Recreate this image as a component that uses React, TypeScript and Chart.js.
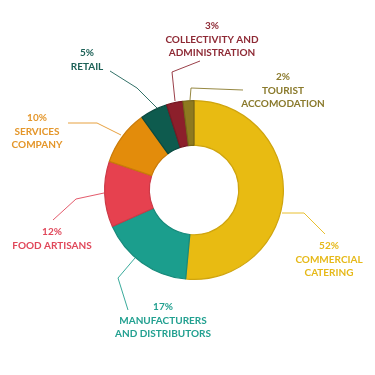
import React, { useEffect, useRef } from "react";
import { Chart, registerables } from "chart.js";

Chart.register(...registerables);

const categories = [
  "Commercial catering",
  "Manufacturers and distributors",
  "Food artisans",
  "Services company",
  "Retail",
  "Collectivity and administration",
  "Tourist accomodation",
];
const shares = [52, 17, 12, 10, 5, 3, 2];
const labelNames = [
  ["COMMERCIAL", "CATERING"],
  ["MANUFACTURERS", "AND DISTRIBUTORS"],
  ["FOOD ARTISANS"],
  ["SERVICES", "COMPANY"],
  ["RETAIL"],
  ["COLLECTIVITY AND", "ADMINISTRATION"],
  ["TOURIST", "ACCOMODATION"],
];
const sliceColors = ["#E8BB12", "#1B9E8D", "#E6414F", "#E38C0B", "#0E5B4E", "#8C1F2B", "#8E7A1F"];
const sliceBorders = ["#CFA40E", "#178A7B", "#CC3A47", "#C97B0A", "#0A4A40", "#761A24", "#776619"];
const textColors = ["#E6B919", "#22A090", "#E0475A", "#E4962A", "#1C6157", "#8E2A35", "#8A7A2C"];

// label layout: offsets from doughnut centre (text anchor + leader polyline)
const labelLayout = [
  { tx: 135, ty: 56, line: [[88, 23], [110, 23], [131, 44]] },
  { tx: -31, ty: 117, line: [[-59, 68], [-76, 88], [-66, 120]] },
  { tx: -142, ty: 42, line: [[-90, 3], [-118, 9], [-141, 30]] },
  { tx: -157, ty: -72, line: [[-73, -55], [-97, -67], [-126, -67]] },
  { tx: -107, ty: -137, line: [[-37, -82], [-57, -102], [-84, -119]] },
  { tx: 18, ty: -164, line: [[-19, -89], [-22, -118], [6, -129]] },
  { tx: 89, ty: -113, line: [[-4, -90], [-3, -102], [49, -100]] },
];

const calloutPlugin = {
  id: "callouts",
  afterDatasetsDraw(chart: any) {
    const ctx = chart.ctx;
    const meta = chart.getDatasetMeta(0);
    const first = meta.data[0];
    if (!first) return;
    const cx = first.x;
    const cy = first.y;
    ctx.save();
    meta.data.forEach((_arc: any, i: number) => {
      const lay = labelLayout[i];
      ctx.strokeStyle = textColors[i];
      ctx.lineWidth = 0.9;
      ctx.beginPath();
      lay.line.forEach((p: number[], j: number) => {
        if (j === 0) ctx.moveTo(cx + p[0], cy + p[1]);
        else ctx.lineTo(cx + p[0], cy + p[1]);
      });
      ctx.stroke();
      const lines = [`${chart.data.datasets[0].data[i]}%`, ...labelNames[i]];
      ctx.fillStyle = textColors[i];
      ctx.font = "bold 10px Lato";
      (ctx as any).letterSpacing = "0px";
      ctx.textAlign = "center";
      ctx.textBaseline = "middle";
      lines.forEach((t, k) => {
        ctx.fillText(t, cx + lay.tx, cy + lay.ty + k * 13.3);
      });
    });
    ctx.restore();
  },
};

export default function App() {
  const ref = useRef<HTMLCanvasElement>(null);
  useEffect(() => {
    if (!ref.current) return;
    const chart = new Chart(ref.current, {
      type: "doughnut",
      data: {
        labels: categories,
        datasets: [
          {
            data: shares,
            backgroundColor: sliceColors,
            borderColor: sliceBorders,
            borderWidth: 1.2,
          },
        ],
      },
      options: {
        responsive: false,
        animation: false,
        cutout: "50%",
        layout: { padding: { left: 104, right: 91, top: 100, bottom: 95 } },
        plugins: { legend: { display: false }, tooltip: { enabled: false } },
      },
      plugins: [calloutPlugin],
    });
    return () => chart.destroy();
  }, []);
  return (
    <div style={{ position: "fixed", left: 0, top: 0, width: 375, height: 375, background: "#fff" }}>
      <canvas ref={ref} width={375} height={375} style={{ width: 375, height: 375 }} />
    </div>
  );
}
